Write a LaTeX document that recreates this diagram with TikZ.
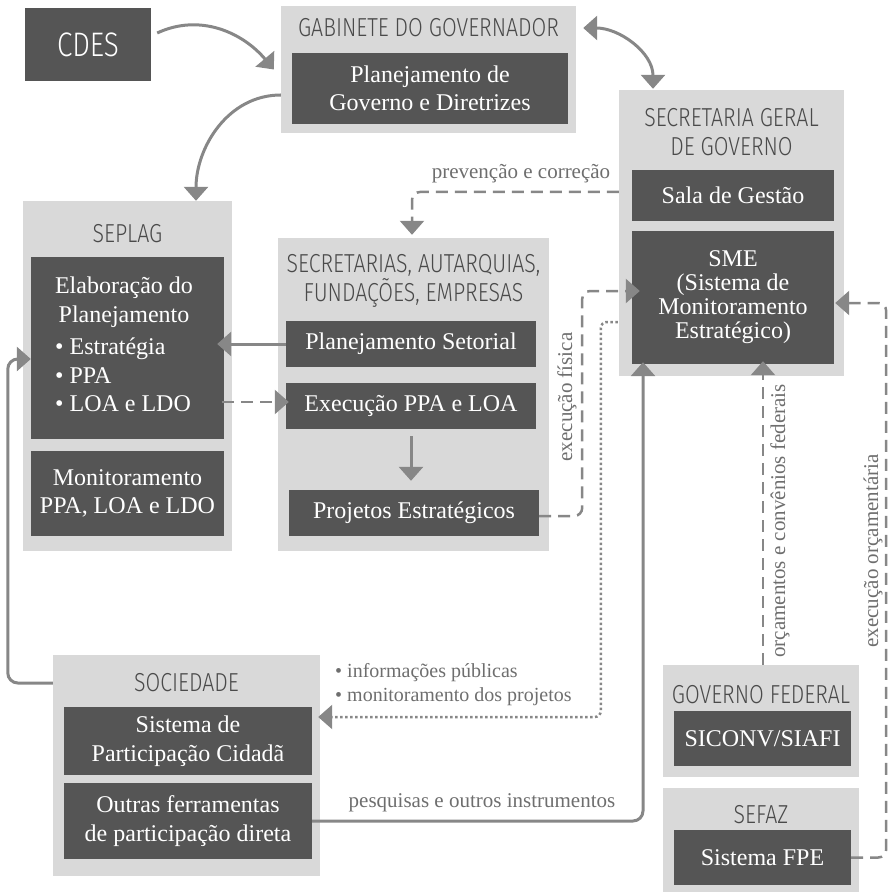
\documentclass[tikz,border=0pt]{standalone}
\usepackage{fontspec}
\setmainfont{Liberation Serif}
\newfontfamily\headfont[FakeStretch=0.82,UprightFont={* Light}]{Fira Sans}
\usetikzlibrary{arrows.meta}
\definecolor{panelgray}{HTML}{D9D9D9}
\definecolor{boxgray}{HTML}{555555}
\definecolor{linegray}{HTML}{878787}
\definecolor{headgray}{HTML}{4A4A4A}
\definecolor{labelgray}{HTML}{6E6E6E}
\begin{document}
\begin{tikzpicture}[x=1pt,y=1pt,>={Triangle[width=24pt,length=14pt]},
	panel/.style={fill=panelgray,inner sep=0pt},
	box/.style={fill=boxgray,text=white,inner sep=0pt,align=center,font=\fontsize{24}{28.5}\selectfont},
	head/.style={text=headgray,inner sep=0pt,align=center,font=\headfont\fontsize{26}{29}\selectfont},
	lbl/.style={text=labelgray,inner sep=0pt,font=\fontsize{21}{24}\selectfont},
	conn/.style={draw=linegray,line width=3pt,->},
	dconn/.style={conn,line width=2.5pt,dash pattern=on 12pt off 7pt},
	pconn/.style={conn,line width=2.5pt,dash pattern=on 2.5pt off 2.5pt}]
		\useasboundingbox (0,0) rectangle (888,-893);
		\foreach \n/\x/\y/\w/\h in {gab/428.5/69.5/295/127, sgg/731.5/233/225/286, seplag/127.5/376/209/350,
				sec/413.5/394.5/271/313, soc/186.5/765.5/267/221, gf/761/721/196/112, sefaz/761/840/196/104}{
				\node[panel,minimum width=\w pt,minimum height=\h pt] (\n) at (\x,-\y) {};
			}
		\node[box,font=\headfont\fontsize{34}{34}\selectfont,minimum width=126pt,minimum height=73pt] (cdes) at (88,-44.5) {CDES};
		\node[box,minimum width=276pt,minimum height=71pt] (plangov) at (430,-88.5) {Planejamento de\\Governo e Diretrizes};
		\node[box,minimum width=202pt,minimum height=51pt] (sala) at (733,-195.5) {Sala de Gestão};
		\node[box,font=\fontsize{24}{24}\selectfont,minimum width=202pt,minimum height=133pt] (sme) at (733,-297.5) {SME\\(Sistema de\\Monitoramento\\Estratégico)};
		\node[box,minimum width=193pt,minimum height=182pt] (elab) at (127.5,-348) {};
		\node[box,fill=none] (elabhd) at (124,-302) {Elaboração do\\Planejamento};
		\node[box,fill=none,anchor=west,align=left] (elabli) at (55,-375) {• Estratégia\\• PPA\\• LOA e LDO};
		\node[box,minimum width=193pt,minimum height=85pt] (mon) at (127.5,-493.5) {Monitoramento\\PPA, LOA e LDO};
		\node[box,minimum width=250pt,minimum height=46pt] (plset) at (411,-344) {Planejamento Setorial};
		\node[box,minimum width=250pt,minimum height=46pt] (exec) at (411,-406) {Execução PPA e LOA};
		\node[box,minimum width=250pt,minimum height=46pt] (proj) at (414,-513) {Projetos Estratégicos};
		\node[box,minimum width=248pt,minimum height=68pt] (spc) at (188,-741) {Sistema de\\Participação Cidadã};
		\node[box,minimum width=248pt,minimum height=76pt] (outras) at (188,-821) {Outras ferramentas\\de participação direta};
		\node[box,minimum width=177pt,minimum height=55pt] (siconv) at (762.5,-738.5) {SICONV/SIAFI};
		\node[box,minimum width=177pt,minimum height=55pt] (fpe) at (762.5,-857.5) {Sistema FPE};
		\node[head] (gabh) at (428.5,-28) {GABINETE DO GOVERNADOR};
		\node[head] (sggh) at (731.5,-132) {SECRETARIA GERAL\\DE GOVERNO};
		\node[head] (seplagh) at (127.5,-234) {SEPLAG};
		\node[head] (sech) at (413.5,-281) {SECRETARIAS, AUTARQUIAS,\\FUNDAÇÕES, EMPRESAS};
		\node[head] (soch) at (186.5,-683) {SOCIEDADE};
		\node[head] (gfh) at (761,-695) {GOVERNO FEDERAL};
		\node[head] (sefazh) at (761,-815) {SEFAZ};
		\draw[conn] ([xshift=6pt,yshift=11.5pt]cdes.east) to[out=25,in=130] ([xshift=-7pt]gab.west);
		\draw[conn] ([yshift=-25.5pt]gab.west) to[out=180,in=90] ([xshift=68.5pt]seplag.north);
		\draw[conn,<->] ([xshift=7pt,yshift=41.5pt]gab.east) to[out=0,in=90] ([xshift=-78.5pt,yshift=1pt]sgg.north);
		\draw[dconn,rounded corners=8pt] ([yshift=3.5pt]sala.west -| sgg.west) -| ([xshift=-1.5pt,yshift=3pt]sec.north);
		\node[lbl] (prevl) at (521,-174) {prevenção e correção};
		\draw[conn] (plset.west) -- ([xshift=-7pt]elab.east |- plset.west);
		\draw[dconn] ([xshift=-2pt,yshift=4pt]elab.east |- exec.west) -- ([xshift=3pt,yshift=4pt]exec.west);
		\draw[conn] ([yshift=-7pt]exec.south) -- ([yshift=9pt]exec.south |- proj.north);
		\draw[dconn,rounded corners=8pt] ([yshift=-3pt]proj.east) -- ([xshift=43pt,yshift=-3pt]proj.east) |- ([xshift=8pt,yshift=6.5pt]sme.west);
		\node[lbl,rotate=90] (fisl) at (567,-397) {execução física};
		\draw[pconn,rounded corners=6pt] ([xshift=-14pt,yshift=-24.5pt]sme.west) -- ([xshift=-31pt,yshift=-24.5pt]sme.west) |- ([xshift=-2pt,yshift=48.5pt]soc.east);
		\node[lbl,font=\fontsize{20}{24}\selectfont,anchor=west,align=left] (infl) at (335,-685) {• informações públicas\\• monitoramento dos projetos};
		\draw[conn,rounded corners=10pt] (outras.east) -| ([xshift=-90pt,yshift=2pt]sme.south);
		\node[lbl] (pesql) at (482,-803) {pesquisas e outros instrumentos};
		\draw[conn,rounded corners=10pt] ([yshift=82.5pt]soc.west) -- ([xshift=-45pt,yshift=82.5pt]soc.west) |- ([yshift=-11pt]elab.west);
		\draw[dconn] ([xshift=2pt]gf.north) -- ([xshift=30pt,yshift=3pt]sme.south);
		\node[lbl,rotate=90] (orcl) at (780,-521) {orçamentos e convênios federais};
		\draw[dconn,rounded corners=8pt] (fpe.east) -- ([xshift=35pt]fpe.east) |- ([xshift=1pt,yshift=-5.5pt]sme.east);
		\node[lbl,rotate=90] (execl) at (873,-551) {execução orçamentária};
	\end{tikzpicture}
\end{document}
